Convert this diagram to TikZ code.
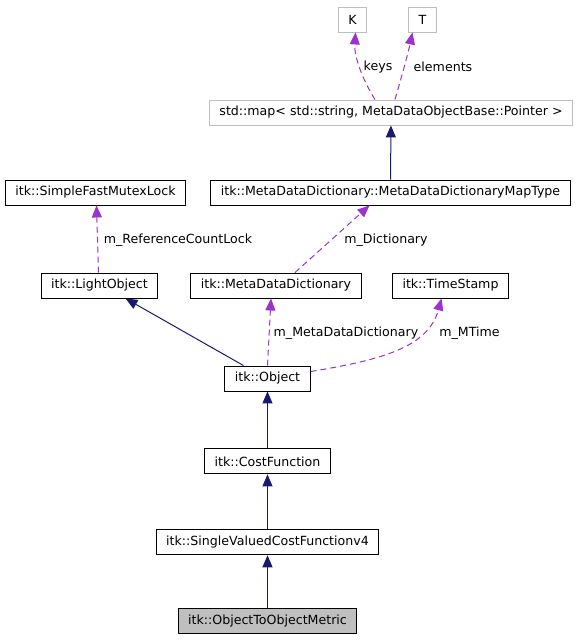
\documentclass[tikz,border=0pt]{standalone}
\usepackage{fontspec}
\setmainfont{DejaVu Sans}
\usetikzlibrary{positioning, arrows.meta}
\definecolor{edgeblue}{HTML}{191970}
\definecolor{edgepurple}{HTML}{9A32CD}
\definecolor{boxgray}{HTML}{BFBFBF}

\begin{document}
\begin{tikzpicture}[
  x=1pt, y=-1pt,
  cls/.style={draw=black, line width=0.9pt, fill=white, minimum height=25pt,
              inner xsep=10pt, inner ysep=0pt, font=\fontsize{12.6}{14}\selectfont},
  tmpl/.style={cls, draw=boxgray},
  cur/.style={cls, fill=boxgray},
  lbl/.style={font=\fontsize{12.6}{14}\selectfont, inner sep=0pt},
  inh/.style={-{Triangle[length=12pt,width=10pt]}, edgeblue, line width=1pt},
  member/.style={-{Triangle[length=12pt,width=10pt]}, edgepurple, line width=1pt,
                 dash pattern=on 6pt off 4pt}
]
\useasboundingbox (0,0) rectangle (581,640);

% template arguments and map
\node[tmpl] (K) at (352.5,19.5) {K};
\node[tmpl] (T) at (422.5,19.5) {T};
\node[tmpl] (stdmap) at (391,112.5) {std::map< std::string, MetaDataObjectBase::Pointer >};

\node[cls] (mapt) at (390.5,192.5) {itk::MetaDataDictionary::MetaDataDictionaryMapType};
\node[cls] (mutex) at (95.5,192.5) {itk::SimpleFastMutexLock};

\node[cls] (light) at (99.5,285.5) {itk::LightObject};
\node[cls] (mdd) at (276,285.5) {itk::MetaDataDictionary};
\node[cls] (ts) at (450.5,285.5) {itk::TimeStamp};

% inheritance chain
\node[cls] (obj) at (267.5,378.5) {itk::Object};
\node[cls, below=57pt of obj] (cost) {itk::CostFunction};
\node[cls, below=55pt of cost] (single) {itk::SingleValuedCostFunctionv4};
\node[cur, below=53pt of single] (metric) {itk::ObjectToObjectMetric};

\draw[member] ([xshift=-16pt]stdmap.north) .. controls (364,82) and (354,58) .. ([xshift=3pt]K.south);
\draw[member] ([xshift=4pt]stdmap.north) .. controls (400,82) and (407,58) .. ([xshift=-10pt]T.south);
\node[lbl] (keyslbl) at (378,67) {keys};
\node[lbl] (elemlbl) at (443,67) {elements};

\draw[inh] (mapt) -- (stdmap);

\draw[member] ([xshift=-1pt]light.north) -- ([xshift=1pt]mutex.south);
\node[lbl] (refcntlbl) at (178,240) {m\_ReferenceCountLock};

\draw[member] ([xshift=19pt]mdd.north) -- ([xshift=-21pt]mapt.south);
\node[lbl] (dictlbl) at (386,240) {m\_Dictionary};

\draw[inh] ([xshift=-24pt]obj.north) -- ([xshift=26pt]light.south);
\draw[member] (obj.north) -- ([xshift=-5pt]mdd.south);
\node[lbl] (mddlbl) at (346,333) {m\_MetaDataDictionary};
\draw[member] ([yshift=-6pt]obj.north east) .. controls (380,360) and (428,348) .. ([xshift=-9pt]ts.south);
\node[lbl] (mtimelbl) at (469.5,333) {m\_MTime};

\draw[inh] (cost) -- (obj);
\draw[inh] (single) -- (cost);
\draw[inh] (metric) -- (single);
\end{tikzpicture}
\end{document}
